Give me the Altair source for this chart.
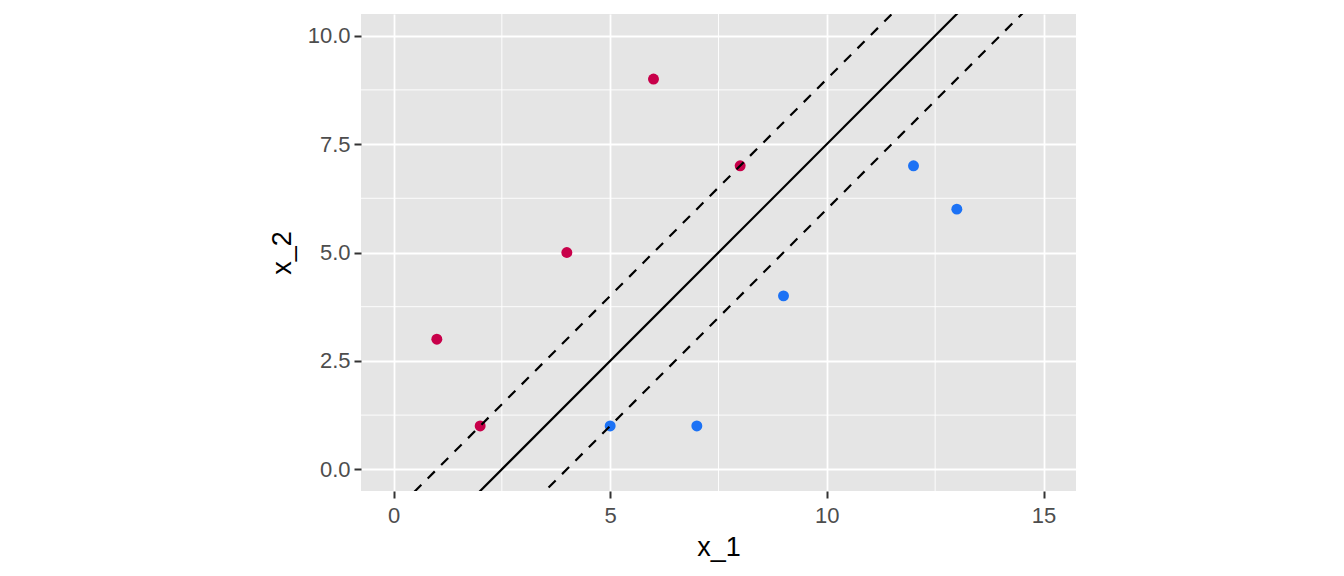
import altair as alt
import pandas as pd

# data
x_1 = [1, 2, 4, 6, 8, 5, 7, 9, 12, 13]
x_2 = [3, 1, 5, 9, 7, 1, 1, 4, 7, 6]
cls = ["-1", "-1", "-1", "-1", "-1", "1", "1", "1", "1", "1"]

intercepts = [-1.0, -2.5, -4.0]
slopes = [1.0, 1.0, 1.0]
line_types = ["dashed", "solid", "dashed"]

x_ticks = [0, 5, 10, 15]
y_ticks = [0, 2.5, 5, 7.5, 10]
x_minor = [2.5, 7.5, 12.5]
y_minor = [1.25, 3.75, 6.25, 8.75]

XDOM = [-0.75, 15.75]
YDOM = [-0.5, 10.5]

pts = pd.DataFrame({"x_1": x_1, "x_2": x_2, "cls": cls})

rows = []
for i, (b, m, lt) in enumerate(zip(intercepts, slopes, line_types)):
    for xv in (-2.0, 18.0):
        rows.append({"id": i, "x": xv, "y": b + m * xv, "ltype": lt})
lines = pd.DataFrame(rows)

FONT = "Liberation Sans"
xs = alt.Scale(domain=XDOM, nice=False, zero=False)
ys = alt.Scale(domain=YDOM, nice=False, zero=False)

xminor = alt.Chart(pd.DataFrame({"v": x_minor})).mark_rule(
    color="white", strokeWidth=0.9
).encode(x=alt.X("v:Q", scale=xs))
yminor = alt.Chart(pd.DataFrame({"v": y_minor})).mark_rule(
    color="white", strokeWidth=0.9
).encode(y=alt.Y("v:Q", scale=ys))

base_x = alt.X(
    "x_1:Q", scale=xs, title="x_1",
    axis=alt.Axis(values=x_ticks, format="d", grid=True),
)
base_y = alt.Y(
    "x_2:Q", scale=ys, title="x_2",
    axis=alt.Axis(values=y_ticks, format=".1f", grid=True),
)

points = alt.Chart(pts).mark_circle(size=120, opacity=1).encode(
    x=base_x,
    y=base_y,
    color=alt.Color(
        "cls:N",
        scale=alt.Scale(domain=["-1", "1"], range=["#C8004A", "#1C72F5"]),
        legend=None,
    ),
)

solid = alt.Chart(lines[lines["ltype"] == "solid"]).mark_line(
    clip=True, color="black", strokeWidth=2.2
).encode(x=alt.X("x:Q", scale=xs), y=alt.Y("y:Q", scale=ys), detail="id:N")
dashed = alt.Chart(lines[lines["ltype"] == "dashed"]).mark_line(
    clip=True, color="black", strokeWidth=2.2, strokeDash=[10, 9]
).encode(x=alt.X("x:Q", scale=xs), y=alt.Y("y:Q", scale=ys), detail="id:N")

chart = alt.layer(xminor, yminor, points, solid, dashed).properties(
    width=715, height=477,
    autosize=alt.AutoSizeParams(type="none"),
    padding={"left": 353, "top": 6, "right": 0, "bottom": 77},
).configure_view(
    fill="#E5E5E5", stroke=None
).configure_axis(
    domain=False,
    gridColor="white", gridWidth=1.8,
    tickColor="#333333", tickWidth=2, tickSize=7,
    labelFont=FONT, labelFontSize=22, labelColor="#4D4D4D",
    titleFont=FONT, titleFontSize=27, titleColor="black", titleFontWeight="normal",
).configure_axisX(
    labelPadding=7, titlePadding=8,
).configure_axisY(
    labelPadding=4, titlePadding=11,
)

chart.save("out.html", embed_options={"renderer": "svg", "actions": False})
